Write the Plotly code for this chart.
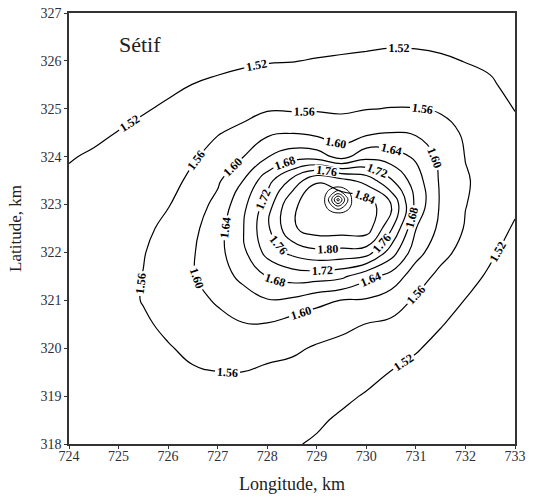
import plotly.graph_objects as go

# Grid coordinates (km)
lon = [724, 724.5, 725, 725.5, 726, 726.5, 727, 727.5, 728, 728.5, 729,
       729.5, 730, 730.5, 731, 731.5, 732, 732.5, 733]
lat = [318, 318.5, 319, 319.5, 320, 320.5, 321, 321.5, 322, 322.5, 323,
       323.5, 324, 324.5, 325, 325.5, 326, 326.5, 327]

# Field values, one list per latitude row (west -> east)
row_318_0 = [1.522, 1.524, 1.525, 1.527, 1.529, 1.530, 1.530, 1.529, 1.527, 1.523, 1.516, 1.508, 1.500, 1.493, 1.486, 1.480, 1.474, 1.468, 1.462]
row_318_5 = [1.524, 1.526, 1.528, 1.530, 1.533, 1.535, 1.536, 1.536, 1.534, 1.530, 1.525, 1.515, 1.507, 1.500, 1.492, 1.485, 1.478, 1.472, 1.466]
row_319_0 = [1.526, 1.529, 1.532, 1.536, 1.540, 1.545, 1.547, 1.547, 1.545, 1.540, 1.535, 1.527, 1.517, 1.508, 1.500, 1.492, 1.485, 1.478, 1.470]
row_319_5 = [1.528, 1.532, 1.536, 1.541, 1.548, 1.556, 1.5595, 1.5598, 1.553, 1.552, 1.546, 1.539, 1.531, 1.519, 1.510, 1.500, 1.490, 1.482, 1.475]
row_320_0 = [1.530, 1.535, 1.540, 1.550, 1.557, 1.569, 1.5747, 1.578, 1.5725, 1.5647, 1.557, 1.551, 1.545, 1.536, 1.523, 1.510, 1.500, 1.490, 1.480]
row_320_5 = [1.532, 1.537, 1.543, 1.554, 1.5686, 1.578, 1.589, 1.598, 1.5975, 1.582, 1.574, 1.5677, 1.559, 1.553, 1.5385, 1.522, 1.508, 1.497, 1.485]
row_321_0 = [1.533, 1.538, 1.546, 1.562, 1.5756, 1.589, 1.604, 1.622, 1.6375, 1.633, 1.612, 1.599, 1.596, 1.579, 1.555, 1.537, 1.519, 1.505, 1.490]
row_321_5 = [1.533, 1.538, 1.545, 1.561, 1.580, 1.597, 1.622, 1.649, 1.681, 1.697, 1.698, 1.689, 1.651, 1.625, 1.578, 1.5495, 1.5315, 1.515, 1.500]
row_322_0 = [1.532, 1.537, 1.543, 1.558, 1.5775, 1.597, 1.6275, 1.669, 1.733, 1.770, 1.790, 1.787, 1.780, 1.700, 1.615, 1.5725, 1.546, 1.525, 1.508]
row_322_5 = [1.530, 1.535, 1.540, 1.552, 1.569, 1.591, 1.624, 1.676, 1.752, 1.834, 1.860, 1.860, 1.862, 1.765, 1.641, 1.590, 1.557, 1.536, 1.516]
row_323_0 = [1.528, 1.532, 1.538, 1.545, 1.558, 1.581, 1.611, 1.667, 1.738, 1.835, 1.855, 1.870, 1.865, 1.800, 1.669, 1.595, 1.561, 1.545, 1.526]
row_323_5 = [1.525, 1.530, 1.535, 1.540, 1.548, 1.568, 1.594, 1.639, 1.705, 1.770, 1.838, 1.815, 1.785, 1.725, 1.659, 1.594, 1.563, 1.548, 1.535]
row_324_0 = [1.518, 1.5236, 1.5306, 1.5388, 1.5476, 1.556, 1.573, 1.598, 1.638, 1.662, 1.660, 1.625, 1.667, 1.658, 1.634, 1.589, 1.559, 1.546, 1.535]
row_324_5 = [1.508, 1.514, 1.521, 1.529, 1.538, 1.548, 1.558, 1.5686, 1.592, 1.598, 1.589, 1.578, 1.591, 1.601, 1.595, 1.578, 1.554, 1.543, 1.528]
row_325_0 = [1.496, 1.503, 1.510, 1.517, 1.525, 1.534, 1.5415, 1.548, 1.556, 1.555, 1.556, 1.555, 1.559, 1.561, 1.561, 1.555, 1.545, 1.533, 1.519]
row_325_5 = [1.486, 1.494, 1.500, 1.507, 1.513, 1.5205, 1.526, 1.531, 1.536, 1.537, 1.539, 1.539, 1.543, 1.544, 1.544, 1.540, 1.533, 1.525, 1.508]
row_326_0 = [1.476, 1.482, 1.490, 1.496, 1.502, 1.507, 1.511, 1.515, 1.518, 1.519, 1.522, 1.524, 1.526, 1.528, 1.528, 1.525, 1.519, 1.513, 1.503]
row_326_5 = [1.465, 1.472, 1.480, 1.486, 1.492, 1.495, 1.498, 1.500, 1.502, 1.504, 1.506, 1.509, 1.511, 1.513, 1.512, 1.509, 1.505, 1.503, 1.494]
row_327_0 = [1.460, 1.462, 1.468, 1.474, 1.480, 1.484, 1.486, 1.489, 1.490, 1.491, 1.492, 1.493, 1.494, 1.495, 1.495, 1.494, 1.490, 1.485, 1.478]

field = [row_318_0, row_318_5, row_319_0, row_319_5, row_320_0, row_320_5,
         row_321_0, row_321_5, row_322_0, row_322_5, row_323_0, row_323_5,
         row_324_0, row_324_5, row_325_0, row_325_5, row_326_0, row_326_5,
         row_327_0]

# Local maximum near the centre (fine grid)
peak_lon = [729.13, 729.28, 729.43, 729.58, 729.73]
peak_lat = [322.80, 322.95, 323.10, 323.25, 323.40]
peak_r1 = [1.855, 1.861, 1.866, 1.862, 1.856]
peak_r2 = [1.861, 1.906, 1.946, 1.909, 1.863]
peak_r3 = [1.865, 1.944, 2.060, 1.946, 1.866]
peak_r4 = [1.859, 1.903, 1.942, 1.902, 1.860]
peak_r5 = [1.853, 1.858, 1.863, 1.858, 1.854]
peak_field = [peak_r1, peak_r2, peak_r3, peak_r4, peak_r5]

serif = "Liberation Serif"
ink = "#2e2e3a"

fig = go.Figure()

# Levels run well past the data maximum: only 1.52 ... 1.84 are drawn, the
# long level list just makes plotly space the inline labels more densely.
fig.add_trace(go.Contour(
    x=lon, y=lat, z=field,
    autocontour=False,
    contours=dict(start=1.52, end=4.40, size=0.04, coloring="none",
                  showlabels=True, labelformat=".2f",
                  labelfont=dict(family=serif, size=12, color="black",
                                 weight="bold")),
    line=dict(color="black", width=1.2, smoothing=1.3),
    showscale=False, hoverinfo="skip",
))

fig.add_trace(go.Contour(
    x=peak_lon, y=peak_lat, z=peak_field,
    autocontour=False,
    contours=dict(start=1.88, end=2.04, size=0.04, coloring="none",
                  showlabels=False),
    line=dict(color="black", width=1.0, smoothing=1.3),
    showscale=False, hoverinfo="skip",
))

fig.add_annotation(x=724.97, y=326.35, xref="x", yref="y", text="Sétif",
                   showarrow=False, xanchor="left", yanchor="middle",
                   font=dict(family=serif, size=22, color="#222"))

axis_common = dict(showgrid=False, zeroline=False, showline=True, mirror=True,
                   linecolor="#333", linewidth=1.5, ticks="outside",
                   ticklen=3, tickcolor="#333", dtick=1, automargin=False,
                   tickfont=dict(family=serif, size=14, color=ink))

fig.update_layout(
    width=536, height=497,
    margin=dict(l=69, r=21, t=13, b=53),
    paper_bgcolor="white", plot_bgcolor="white",
    showlegend=False,
    xaxis=dict(range=[724, 733], tick0=724, ticklabelstandoff=-5,
               title=dict(text="Longitude, km",
                          font=dict(family=serif, size=18, color="#222")),
               **axis_common),
    yaxis=dict(range=[318, 327], tick0=318,
               title=dict(text="Latitude, km",
                          font=dict(family=serif, size=17, color="#222")),
               **axis_common),
)

fig.write_html("out.html")
